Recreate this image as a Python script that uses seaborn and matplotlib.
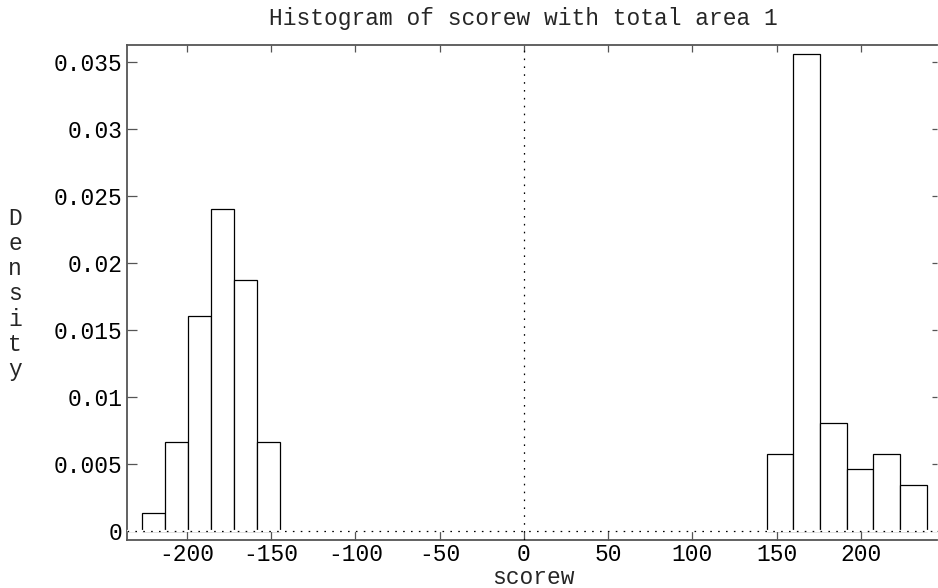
import matplotlib
matplotlib.use("Agg")
import matplotlib.pyplot as plt
import seaborn as sns
import numpy as np
import pandas as pd
from matplotlib.ticker import FixedLocator, FuncFormatter

# ---- data ----
left_edges = [-226.3, -212.7, -199.0, -185.4, -171.7, -158.3, -144.6]
left_density = [0.00132, 0.00665, 0.01605, 0.02407, 0.01874, 0.00665]
right_edges = [144.1, 159.9, 175.7, 191.6, 207.4, 223.2, 239.0]
right_density = [0.00573, 0.03565, 0.00805, 0.00461, 0.00573, 0.00344]
x_ticks = [-200, -150, -100, -50, 0, 50, 100, 150, 200]
y_ticks = [0, 0.005, 0.01, 0.015, 0.02, 0.025, 0.03, 0.035]
title = "Histogram of scorew with total area 1"
xlabel = "scorew"
ylabel = "Density"

sns.set_theme(style="white")
plt.rcParams["font.family"] = ["Liberation Mono", "DejaVu Sans Mono"]
plt.rcParams["axes.unicode_minus"] = False

FS = 16.5
W, H = 938, 588
fig = plt.figure(figsize=(W / 100, H / 100), dpi=100)
ax = fig.add_axes([126.7 / W, 1 - 540 / H, (937 - 126.7) / W, (540 - 45) / H])


def frame(edges, dens):
    centers = [(a + b) / 2 for a, b in zip(edges[:-1], edges[1:])]
    return pd.DataFrame({"x": centers, "w": dens}), list(edges)


for edges, dens in [(left_edges, left_density), (right_edges, right_density)]:
    df, bins = frame(edges, dens)
    sns.histplot(data=df, x="x", weights="w", bins=bins, stat="count",
                 element="bars", fill=True, facecolor="white",
                 edgecolor="black", linewidth=0.9, alpha=1, ax=ax)

ax.axvline(0, color="black", lw=0.9, ls=(0, (1.3, 5.0)), zorder=4)
# bars have no solid bottom edge in the reference: only the dotted zero line
ax.axhline(0, color="white", lw=1.6, zorder=3)
ax.axhline(0, color="black", lw=0.9, ls=(0, (1.3, 5.0)), zorder=4)

ax.set_xlim(-235.6, 245.1)
ax.set_ylim(-0.00067, 0.03629)

ax.xaxis.set_major_locator(FixedLocator(x_ticks))
ax.yaxis.set_major_locator(FixedLocator(y_ticks))
ax.xaxis.set_major_formatter(FuncFormatter(lambda v, p: "%g" % v))
ax.yaxis.set_major_formatter(FuncFormatter(lambda v, p: "%g" % v))

ax.tick_params(axis="x", which="major", direction="in", length=7, width=0.9,
               color="#555555", labelsize=FS, pad=2, top=True, bottom=True,
               labeltop=False, labelcolor="black")
ax.tick_params(axis="y", which="major", direction="in", length=7, width=0.9,
               color="#555555", labelsize=FS, pad=3, left=True, right=True,
               labelcolor="black")
# shorter ticks on the top and right
for t in ax.xaxis.get_major_ticks():
    t.tick2line.set_markersize(5)
for t in ax.yaxis.get_major_ticks():
    t.tick2line.set_markersize(3.5)

for side in ["left", "bottom", "top"]:
    ax.spines[side].set_visible(True)
    ax.spines[side].set_color("#555555")
    ax.spines[side].set_linewidth(1.3)
ax.spines["right"].set_visible(False)

ax.set_xlabel("")
ax.set_ylabel("")
ax.grid(False)

fig.text(523 / W, 1 - 18 / H, title, ha="center", va="center", fontsize=FS)
fig.text(533 / W, 1 - 577 / H, xlabel, ha="center", va="center", fontsize=FS)
fig.text(15 / W, 1 - 294 / H, "\n".join(ylabel), ha="center", va="center",
         fontsize=FS, linespacing=1.12)

fig.savefig("out.png", dpi=100, facecolor="white")
